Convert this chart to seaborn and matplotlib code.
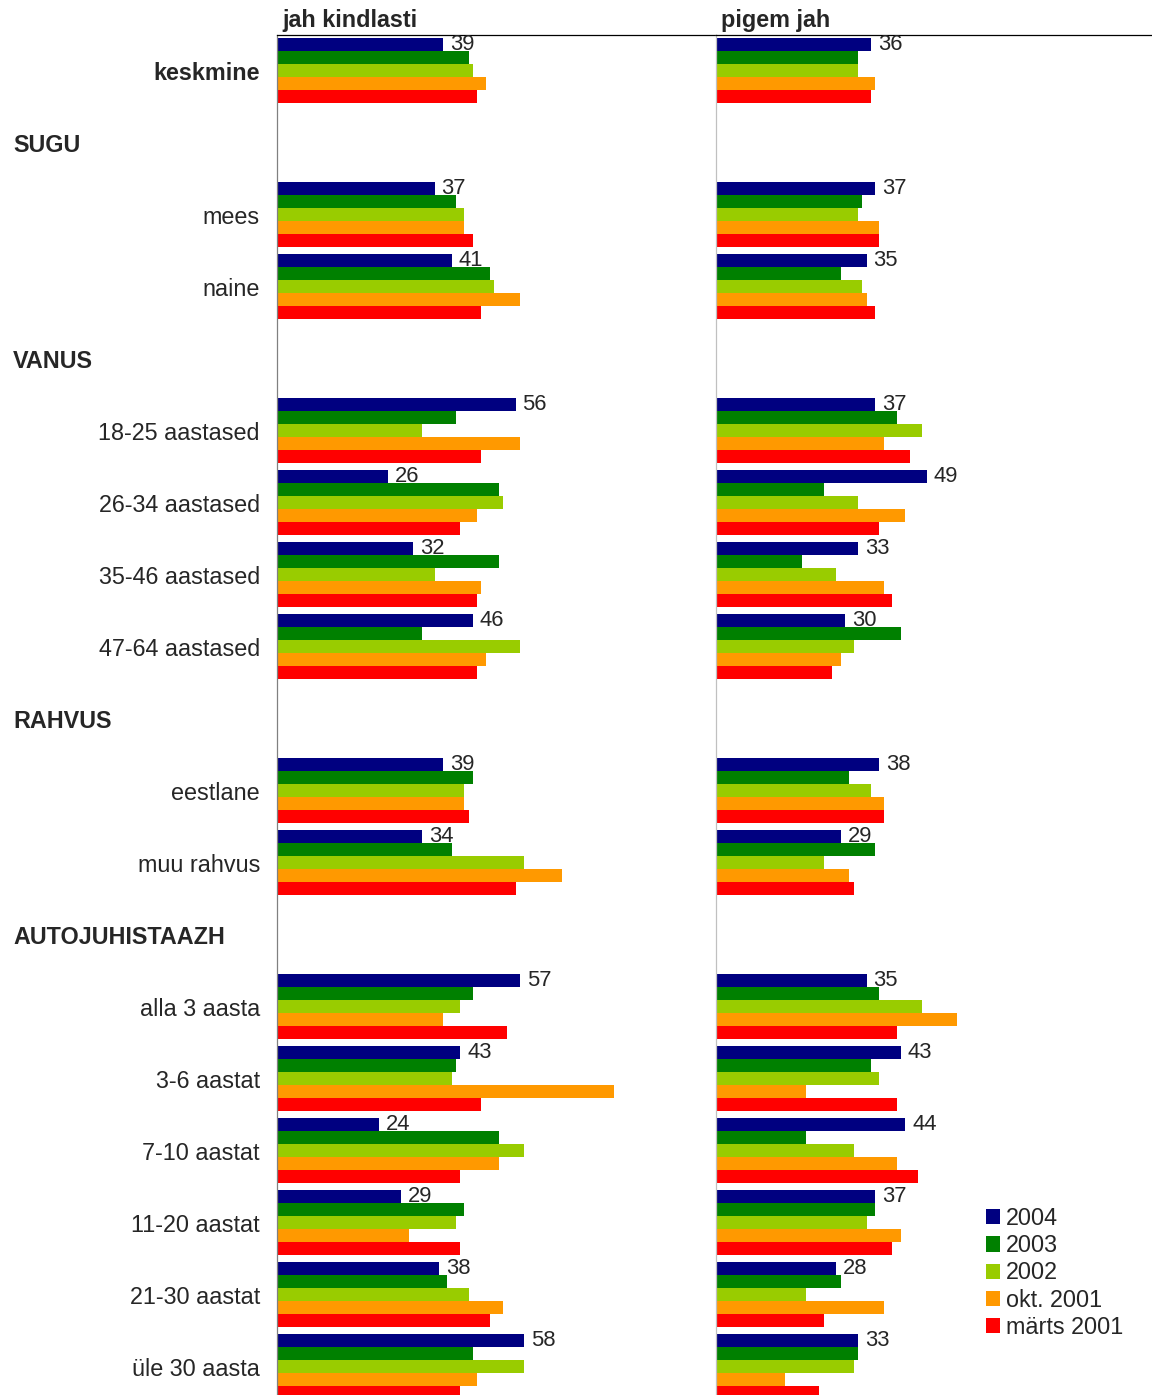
import pandas as pd
import matplotlib
matplotlib.use("Agg")
import matplotlib.pyplot as plt
import matplotlib.transforms as mtransforms
import seaborn as sns

# rows of the chart, headers have no bars
rows = ["keskmine", "SUGU", "mees", "naine", "VANUS", "18-25 aastased",
        "26-34 aastased", "35-46 aastased", "47-64 aastased", "RAHVUS",
        "eestlane", "muu rahvus", "AUTOJUHISTAAZH", "alla 3 aasta",
        "3-6 aastat", "7-10 aastat", "11-20 aastat", "21-30 aastat",
        "üle 30 aasta"]
headers = ["SUGU", "VANUS", "RAHVUS", "AUTOJUHISTAAZH"]
groups = [r for r in rows if r not in headers]

series = ["2004", "2003", "2002", "okt. 2001", "märts 2001"]
colors = ["#000080", "#008000", "#99CC00", "#FF9900", "#FF0000"]

# jah kindlasti
kindlasti_2004 = [39, 37, 41, 56, 26, 32, 46, 39, 34, 57, 43, 24, 29, 38, 58]
kindlasti_2003 = [45, 42, 50, 42, 52, 52, 34, 46, 41, 46, 42, 52, 44, 40, 46]
kindlasti_2002 = [46, 44, 51, 34, 53, 37, 57, 44, 58, 43, 41, 58, 42, 45, 58]
kindlasti_okt01 = [49, 44, 57, 57, 47, 48, 49, 44, 67, 39, 79, 52, 31, 53, 47]
kindlasti_mar01 = [47, 46, 48, 48, 43, 47, 47, 45, 56, 54, 48, 43, 43, 50, 43]

# pigem jah
pigem_2004 = [36, 37, 35, 37, 49, 33, 30, 38, 29, 35, 43, 44, 37, 28, 33]
pigem_2003 = [33, 34, 29, 42, 25, 20, 43, 31, 37, 38, 36, 21, 37, 29, 33]
pigem_2002 = [33, 33, 34, 48, 33, 28, 32, 36, 25, 48, 38, 32, 35, 21, 32]
pigem_okt01 = [37, 38, 35, 39, 44, 39, 29, 39, 31, 56, 21, 42, 43, 39, 16]
pigem_mar01 = [36, 38, 37, 45, 38, 41, 27, 39, 32, 42, 42, 47, 41, 25, 24]

panels = [
    ("jah kindlasti", [kindlasti_2004, kindlasti_2003, kindlasti_2002,
                       kindlasti_okt01, kindlasti_mar01]),
    ("pigem jah", [pigem_2004, pigem_2003, pigem_2002, pigem_okt01,
                   pigem_mar01]),
]


def to_long(values):
    recs = []
    for s, vals in zip(series, values):
        for g, v in zip(groups, vals):
            recs.append({"group": g, "series": s, "value": v})
    return pd.DataFrame(recs)


sns.set_style("white")
plt.rcParams["font.family"] = ["Liberation Sans", "DejaVu Sans"]

W, H = 1152, 1395
fig = plt.figure(figsize=(W / 100, H / 100), dpi=100)

top_px = 34.5
row_px = 72
ax_h = (H - top_px) / H
n = len(rows)
y_bottom = (n - 0.5) - (top_px + n * row_px - H) / row_px
FS = 16.8

# pixel geometry of both panels: (left, width, px per unit, spine colour)
geom = [(277, 439, 4.26, "#808080"), (716, 436, 4.30, "#C0C0C0")]

for i, ((title, values), (x0, w, ppu, scol)) in enumerate(zip(panels, geom)):
    ax = fig.add_axes([x0 / W, 0, w / W, ax_h])
    df = to_long(values)
    sns.barplot(data=df, x="value", y="group", hue="series", order=rows,
                hue_order=series, palette=colors, orient="h", width=0.915,
                saturation=1, errorbar=None, ax=ax, legend=(i == 1),
                linewidth=0)
    ax.set_xlim(0, w / ppu)
    ax.set_ylim(y_bottom, -0.5)
    ax.set_xlabel("")
    ax.set_ylabel("")
    ax.set_xticks([])
    ax.set_yticks([])
    for side in ["right", "bottom"]:
        ax.spines[side].set_visible(False)
    ax.spines["top"].set_color("black")
    ax.spines["top"].set_linewidth(0.9)
    ax.spines["left"].set_color(scol)
    ax.spines["left"].set_linewidth(0.9)

    # value labels only for 2004
    ax.bar_label(ax.containers[0], fmt="{:.0f}", padding=5, fontsize=15.8)

    fig.text((x0 + 5) / W, 1 - 27.5 / H, title, fontsize=FS,
             fontweight="bold", va="baseline", ha="left")

    if i == 0:
        trans = mtransforms.blended_transform_factory(fig.transFigure,
                                                      ax.transData)
        for k, r in enumerate(rows):
            if r in headers:
                ax.text(13 / W, k + 0.035, r, transform=trans, ha="left",
                        va="center", fontsize=FS, fontweight="bold")
            else:
                ax.text(260 / W, k + 0.035, r, transform=trans, ha="right",
                        va="center", fontsize=FS,
                        fontweight="bold" if r == "keskmine" else "normal")
    else:
        sns.move_legend(ax, loc="upper left",
                        bbox_to_anchor=(986 / W, 1 - 1207 / H),
                        bbox_transform=fig.transFigure, frameon=False,
                        title=None, fontsize=FS, handlelength=0.62,
                        handleheight=0.62, handletextpad=0.25,
                        labelspacing=0.18, borderpad=0, borderaxespad=0)

fig.savefig("out.png", dpi=100)
